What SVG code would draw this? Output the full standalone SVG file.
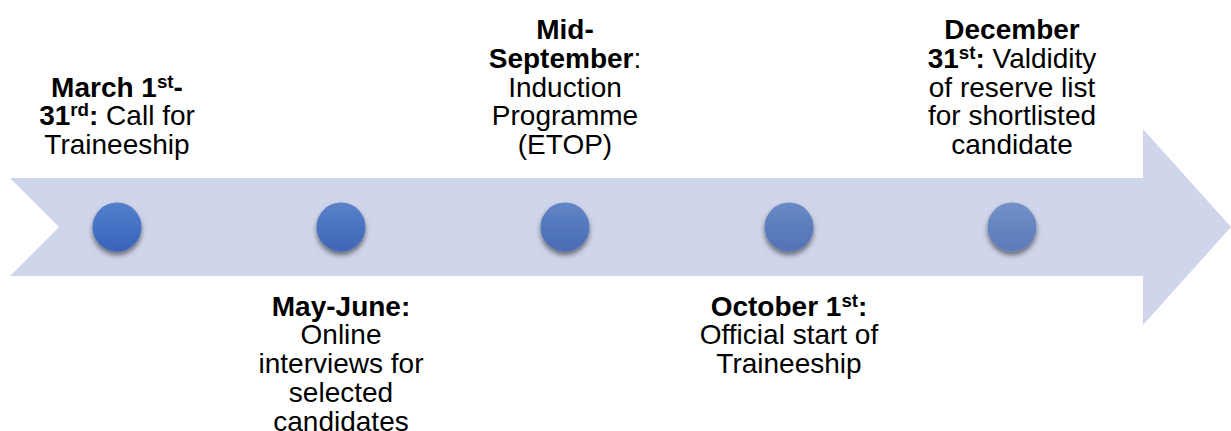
<svg xmlns="http://www.w3.org/2000/svg" width="1231" height="431" viewBox="0 0 1231 431">
  <style>
    text { font-family: "Liberation Sans", Arial, sans-serif; font-size: 28px; fill: #000; text-anchor: middle; }
    .b { font-weight: bold; }
    .sup { font-size: 18.7px; }
  </style>
  <defs>
    <filter id="sh" x="-40%" y="-40%" width="180%" height="190%">
      <feDropShadow dx="0" dy="3.5" stdDeviation="2.8" flood-color="#000" flood-opacity="0.5"/>
    </filter>
    <linearGradient id="g1" x1="0" y1="0" x2="0" y2="1">
      <stop offset="0" stop-color="#5380cc"/><stop offset="0.5" stop-color="#4472c4"/><stop offset="1" stop-color="#3a63b8"/>
    </linearGradient>
    <linearGradient id="g2" x1="0" y1="0" x2="0" y2="1">
      <stop offset="0" stop-color="#5a82c8"/><stop offset="0.5" stop-color="#4a73c0"/><stop offset="1" stop-color="#4066b6"/>
    </linearGradient>
    <linearGradient id="g3" x1="0" y1="0" x2="0" y2="1">
      <stop offset="0" stop-color="#6286c6"/><stop offset="0.5" stop-color="#5377bd"/><stop offset="1" stop-color="#4a6cb4"/>
    </linearGradient>
    <linearGradient id="g4" x1="0" y1="0" x2="0" y2="1">
      <stop offset="0" stop-color="#6a8bc6"/><stop offset="0.5" stop-color="#5c7dbd"/><stop offset="1" stop-color="#5473b6"/>
    </linearGradient>
    <linearGradient id="g5" x1="0" y1="0" x2="0" y2="1">
      <stop offset="0" stop-color="#7390c8"/><stop offset="0.5" stop-color="#6684bf"/><stop offset="1" stop-color="#5e7bb8"/>
    </linearGradient>
  </defs>

  <g id="timeline-arrow">
    <path d="M10,178 L1143,178 L1143,129 L1231,227 L1143,325 L1143,276 L10,276 L59,227 Z" fill="#cfd5ea"/>
  </g>

  <g id="connectors"></g>

  <g id="node-march">
    <circle cx="117" cy="227" r="24.5" fill="url(#g1)" filter="url(#sh)"/>
    <text x="117" y="96.6"><tspan class="b">March 1<tspan class="sup" dy="-9">st</tspan><tspan dy="9">-</tspan></tspan></text>
    <text x="117" y="125.3"><tspan class="b">31<tspan class="sup" dy="-9">rd</tspan><tspan dy="9">:</tspan></tspan> Call for</text>
    <text x="117" y="154">Traineeship</text>
  </g>

  <g id="node-may-june">
    <circle cx="341" cy="227" r="24.5" fill="url(#g2)" filter="url(#sh)"/>
    <text x="341" y="315.7" class="b">May-June:</text>
    <text x="341" y="344.4">Online</text>
    <text x="341" y="373.1">interviews for</text>
    <text x="341" y="401.8">selected</text>
    <text x="341" y="430.5">candidates</text>
  </g>

  <g id="node-mid-september">
    <circle cx="565" cy="227" r="24.5" fill="url(#g3)" filter="url(#sh)"/>
    <text x="565" y="39.2" class="b">Mid-</text>
    <text x="565" y="67.9"><tspan class="b">September</tspan>:</text>
    <text x="565" y="96.6">Induction</text>
    <text x="565" y="125.3">Programme</text>
    <text x="565" y="154">(ETOP)</text>
  </g>

  <g id="node-october">
    <circle cx="789" cy="227" r="24.5" fill="url(#g4)" filter="url(#sh)"/>
    <text x="789" y="315.7"><tspan class="b">October 1<tspan class="sup" dy="-9">st</tspan><tspan dy="9">:</tspan></tspan></text>
    <text x="789" y="344.4">Official start of</text>
    <text x="789" y="373.1">Traineeship</text>
  </g>

  <g id="node-december">
    <circle cx="1012" cy="227" r="24.5" fill="url(#g5)" filter="url(#sh)"/>
    <text x="1012" y="39.2" class="b">December</text>
    <text x="1012" y="67.9"><tspan class="b">31<tspan class="sup" dy="-9">st</tspan><tspan dy="9">:</tspan></tspan> Valdidity</text>
    <text x="1012" y="96.6">of reserve list</text>
    <text x="1012" y="125.3">for shortlisted</text>
    <text x="1012" y="154">candidate</text>
  </g>
</svg>
